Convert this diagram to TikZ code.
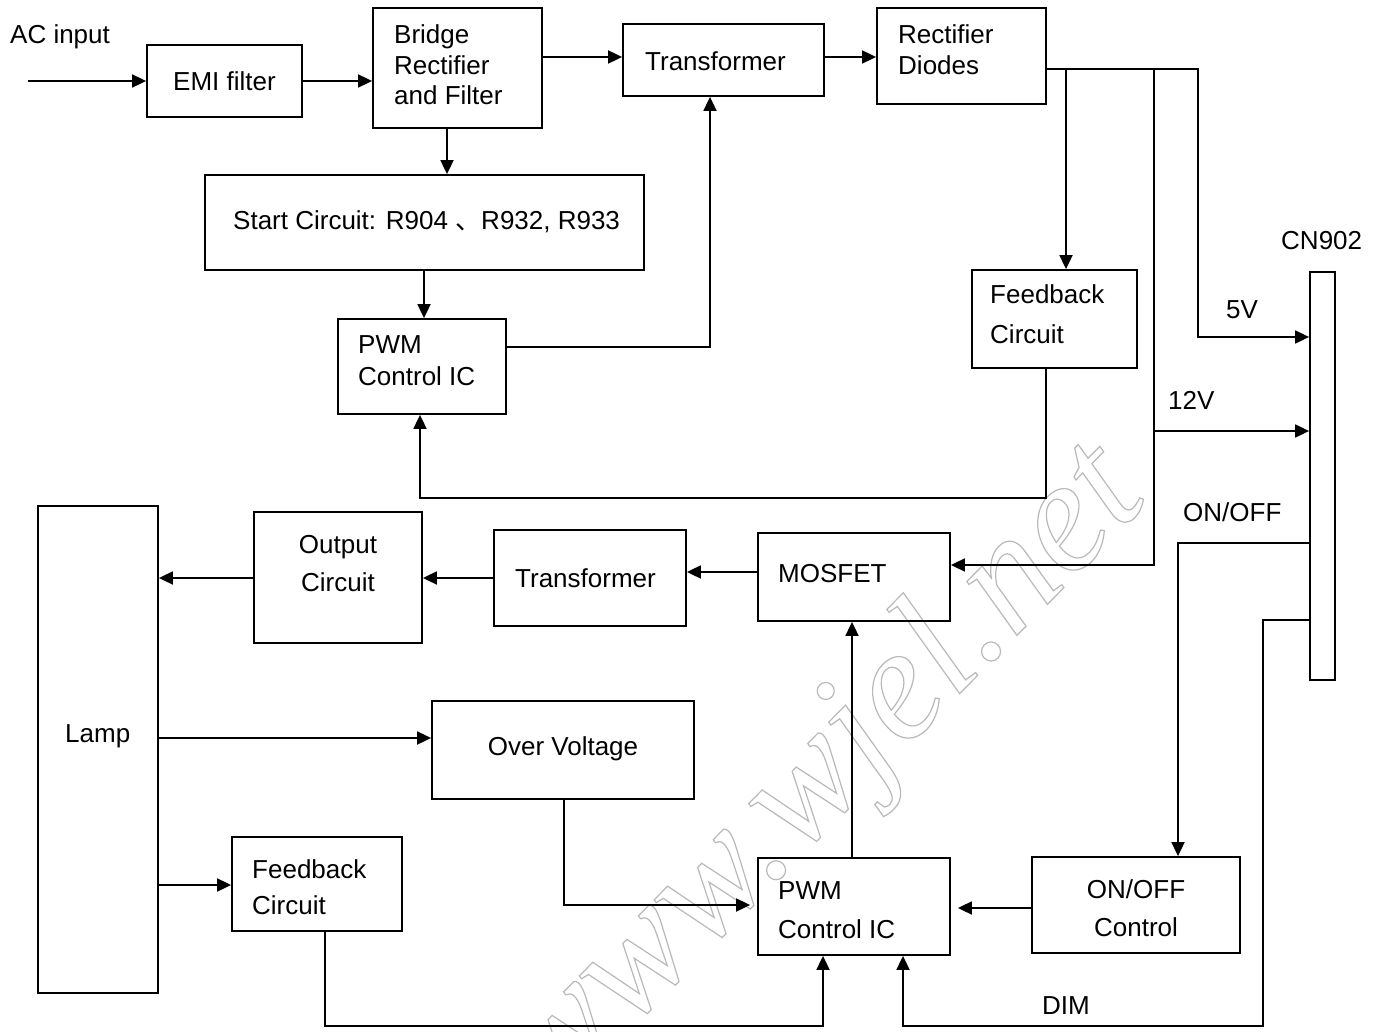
\documentclass[tikz,border=0pt]{standalone}
\usepackage{fontspec}
\setmainfont{Liberation Sans}
\newfontfamily\cjk{Noto Sans CJK SC}
\newfontfamily\wmfont{Liberation Serif}
\usetikzlibrary{arrows.meta}
\newcommand\wmoutline[1]{\special{pdf:literal direct 1 Tr 1.2 w}#1\special{pdf:literal direct 0 Tr}}
\begin{document}
\begin{tikzpicture}[x=1pt,y=-1pt,
  box/.style={draw, line width=1.8pt, inner sep=0pt},
  lbl/.style={inner sep=0pt, anchor=base west, font=\fontsize{26}{28}\selectfont},
  clbl/.style={inner sep=0pt, anchor=base, font=\fontsize{26}{28}\selectfont},
  arr/.style={line width=1.8pt, -{Triangle[length=14pt,width=13pt]}}]
\useasboundingbox[fill=white] (0,0) rectangle (1381,1032);

% watermark (behind everything)
\begin{scope}
\clip (0,0) rectangle (1381,1032);
\node[rotate=45.5, anchor=base east, text=gray!55, inner sep=0pt, font=\wmfont\itshape\fontsize{160}{160}\selectfont] (wm) at (1150,500) {\wmoutline{www.wjel.net}};
\end{scope}

% boxes
\node[box, minimum width=155, minimum height=72]  (emi)    at (224.5,81) {};
\node[box, minimum width=169, minimum height=120] (bridge) at (457.5,68) {};
\node[box, minimum width=201, minimum height=72]  (trA)    at (723.5,60) {};
\node[box, minimum width=169, minimum height=96]  (rect)   at (961.5,56) {};
\node[box, minimum width=439, minimum height=95]  (start)  at (424.5,222.5) {};
\node[box, minimum width=168, minimum height=95]  (pwmA)   at (422,366.5) {};
\node[box, minimum width=165, minimum height=98]  (fbA)    at (1054.5,319) {};
\node[box, minimum width=25,  minimum height=408] (cn)     at (1322.5,476) {};
\node[box, minimum width=120, minimum height=487] (lamp)   at (98,749.5) {};
\node[box, minimum width=168, minimum height=131] (out)    at (338,577.5) {};
\node[box, minimum width=192, minimum height=96]  (trB)    at (590,578) {};
\node[box, minimum width=192, minimum height=88]  (mos)    at (854,577) {};
\node[box, minimum width=262, minimum height=98]  (ov)     at (563,750) {};
\node[box, minimum width=170, minimum height=94]  (fbB)    at (317,884) {};
\node[box, minimum width=192, minimum height=97]  (pwmB)   at (854,906.5) {};
\node[box, minimum width=208, minimum height=96]  (onoff)  at (1136,905) {};

% texts
\node[lbl] (tac) at (10,44) {AC input};
\node[lbl] (temi) at (173,91) {EMI filter};
\node[lbl] (tbr1) at (394,44) {Bridge};
\node[lbl] (tbr2) at (394,75) {Rectifier};
\node[lbl] (tbr3) at (394,105) {and Filter};
\node[lbl] (ttrA) at (645,71) {Transformer};
\node[lbl] (trd1) at (898,44) {Rectifier};
\node[lbl] (trd2) at (898,75) {Diodes};
\node[lbl] (tst) at (233,230) {Start Circuit: R904 {\cjk 、}R932, R933};
\node[lbl] (tpa1) at (358,353) {PWM};
\node[lbl] (tpa2) at (358,385) {Control IC};
\node[lbl] (tfa1) at (990,303) {Feedback};
\node[lbl] (tfa2) at (990,343) {Circuit};
\node[lbl] (tcn) at (1281,250) {CN902};
\node[lbl] (t5v) at (1226,318) {5V};
\node[lbl] (t12v) at (1168,409) {12V};
\node[lbl] (ton) at (1183,521) {ON/OFF};
\node[lbl] (tdim) at (1042,1014) {DIM};
\node[lbl] (tlamp) at (65,742) {Lamp};
\node[clbl] (tout1) at (338,553) {Output};
\node[clbl] (tout2) at (338,591) {Circuit};
\node[lbl] (ttrB) at (515,587) {Transformer};
\node[lbl] (tmos) at (778,582) {MOSFET};
\node[clbl] (tov) at (563,755) {Over Voltage};
\node[lbl] (tfb1) at (252,878) {Feedback};
\node[lbl] (tfb2) at (252,914) {Circuit};
\node[lbl] (tpb1) at (778,899) {PWM};
\node[lbl] (tpb2) at (778,938) {Control IC};
\node[clbl] (to1) at (1136,898) {ON/OFF};
\node[clbl] (to2) at (1136,936) {Control};

% junction / free-end coordinates
\coordinate (acin) at (28,81);
\coordinate (j1) at (1066,69);
\coordinate (j2) at (1154,69);
\coordinate (j3) at (1154,431);

% connectors
\draw[arr] (acin) -- (emi.west);
\draw[arr] (emi.east) -- (bridge.west |- emi.east);
\draw[arr] (bridge.east |- 0,57) -- (trA.west |- 0,57);
\draw[arr] (trA.east |- 0,57) -- (rect.west |- 0,57);
\draw[arr] (447,0 |- bridge.south) -- (447,0 |- start.north);
\draw[arr] (424,0 |- start.south) -- (424,0 |- pwmA.north);
\draw[arr] (pwmA.east |- 0,347) -- (710,347) -- (710,0 |- trA.south);
\draw[arr] (rect.east |- 0,69) -- (1198,69) -- (1198,337) -- (cn.west |- 0,337);
\draw[arr] (j1) -- (1066,0 |- fbA.north);
\draw[arr] (j2) -- (1154,565) -- (mos.east |- 0,565);
\draw[arr] (j3) -- (cn.west |- j3);
\draw[arr] (1046,0 |- fbA.south) -- (1046,498) -- (420,498) -- (420,0 |- pwmA.south);
\draw[arr] (cn.west |- 0,543) -- (1178,543) -- (1178,0 |- onoff.north);
\draw[arr] (cn.west |- 0,620) -- (1263,620) -- (1263,1026) -- (903,1026) -- (903,0 |- pwmB.south);
\draw[arr, shorten >=7pt] (onoff.west |- 0,908) -- (pwmB.east |- 0,908);
\draw[arr] (852,0 |- pwmB.north) -- (852,0 |- mos.south);
\draw[arr] (mos.west |- 0,572) -- (trB.east |- 0,572);
\draw[arr] (trB.west |- 0,578) -- (out.east |- 0,578);
\draw[arr] (out.west |- 0,578) -- (lamp.east |- 0,578);
\draw[arr] (lamp.east |- 0,738) -- (ov.west |- 0,738);
\draw[arr] (lamp.east |- 0,885) -- (fbB.west |- 0,885);
\draw[arr, shorten >=7pt] (564,0 |- ov.south) -- (564,905) -- (pwmB.west |- 0,905);
\draw[arr] (325,0 |- fbB.south) -- (325,1026) -- (823,1026) -- (823,0 |- pwmB.south);
\end{tikzpicture}
\end{document}
